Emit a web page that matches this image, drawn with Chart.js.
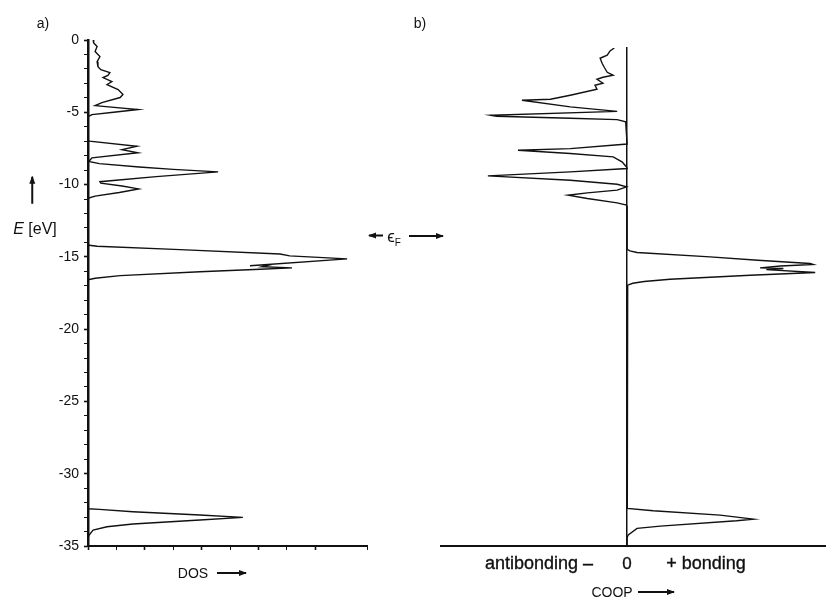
<!DOCTYPE html>
<html>
<head>
<meta charset="utf-8">
<script src="https://cdn.jsdelivr.net/npm/chart.js@4"></script>
<style>
  body { margin: 0; background: #fff; }
  #wrap { position: relative; width: 826px; height: 598px; overflow: hidden; font-family: "Liberation Sans", sans-serif; color: #111; }
  canvas { position: absolute; top: 0; }
  .lbl { position: absolute; white-space: nowrap; transform: translate(-50%, -50%); line-height: 1; }
  .big { font-size: 18px; -webkit-text-stroke: 0.35px #111; }
</style>
</head>
<body>
<div id="wrap">
  <canvas id="dos" width="400" height="598" style="left:0"></canvas>
  <canvas id="coop" width="396" height="598" style="left:430px"></canvas>
</div>
<script>
// a) density of states, energy in eV
const dosEnergy = [
  0, -0.2, -0.45, -0.8, -1.15, -1.5, -1.85, -2.05, -2.26, -2.45, -2.6, -2.87, -3.08, -3.43, -3.77, -3.98, -4.33, -4.54, -4.81, -5.0, -5.16, -5.3,
  -6.9, -7.0, -7.35, -7.58, -7.8, -8.15, -8.4, -8.55, -8.78, -8.95, -9.12, -9.45, -9.8, -9.9, -10.1, -10.3, -10.55, -10.8, -10.95,
  -14.1, -14.2, -14.27, -14.5, -14.8, -14.93, -15.14, -15.62, -15.51, -15.68, -15.76, -15.86, -16.03, -16.3, -16.48, -16.58,
  -32.3, -32.42, -32.47, -32.63, -32.86, -33.02, -33.2, -33.48, -33.67, -33.9, -34.24, -34.45, -35
];
const dosValue = [
  0.18, 0.2, 0.32, 0.25, 0.42, 0.32, 0.35, 0.45, 0.77, 0.7, 0.53, 0.84, 0.67, 1.06, 1.23, 1.13, 0.49, 0.25, 1.76, 0.9, 0.14, 0,
  0, 0.05, 1.72, 1.2, 1.76, 0.14, 0.03, 0.4, 1.8, 3.0, 4.58, 2.4, 0.42, 0.45, 1.2, 1.78, 1.1, 0.25, 0,
  0, 0.05, 0.32, 3.24, 6.76, 7.1, 9.12, 5.7, 6.48, 6.13, 7.18, 6.06, 3.94, 1.13, 0.25, 0,
  0, 0.02, 0.4, 1.58, 3.94, 5.45, 3.94, 1.58, 0.67, 0.18, 0.04, 0, 0
];

// b) crystal orbital overlap population
const coopEnergy = [
  -0.5, -0.7, -1.0, -1.21, -1.56, -1.85, -2.18, -2.39, -2.53, -2.67, -2.94, -3.08, -3.36, -3.77, -4.05, -4.12, -4.58, -4.89, -5.16, -5.23, -5.37, -5.46, -5.62,
  -7.15, -7.47, -7.58, -7.81, -8.04, -8.39, -8.74,
  -8.85, -9.08, -9.36, -9.66, -9.94, -10.12, -10.35, -10.54, -10.7, -10.93, -11.23, -11.39, -11.5,
  -14.45, -14.55, -14.67, -14.97, -15.2, -15.43, -15.5, -15.6, -15.73, -15.78, -15.85, -16.05, -16.24, -16.52, -16.68, -16.8, -16.93, -17.1,
  -32.3, -32.4, -32.56, -32.86, -33.14, -33.25, -33.62, -33.78, -34.24, -34.4, -35
];
const coopValue = [
  -0.45, -0.6, -0.7, -0.95, -0.88, -0.8, -0.7, -0.49, -0.85, -1.06, -0.85, -1.13, -1.06, -2.0, -2.7, -3.7, -2.0, -0.35, -4.8, -4.6, -2.0, -0.35, -0.05,
  0, -2.0, -3.84, -2.0, -0.49, -0.18, -0.02,
  0, -2.0, -4.9, -2.0, -0.35, -0.02, -0.35, -1.4, -2.08, -1.4, -0.35, -0.02, 0,
  0, 0.1, 0.35, 2.92, 4.6, 6.44, 6.55, 5.4, 4.68, 5.5, 4.9, 6.62, 4.33, 1.51, 0.6, 0.2, 0.02, 0,
  0, 0.02, 0.92, 3.27, 4.45, 3.85, 1.17, 0.35, 0.04, 0, 0
];

const energyTicks = [0, -5, -10, -15, -20, -25, -30, -35];

const ink = '#111';
const wrap = document.getElementById('wrap');

function curve(energies, values) {
  return energies.map((e, i) => ({ x: values[i], y: e }));
}

function lineSet(points) {
  return {
    data: points,
    showLine: true,
    borderColor: ink,
    borderWidth: 1.4,
    pointRadius: 0,
    tension: 0
  };
}

new Chart(document.getElementById('dos'), {
  type: 'scatter',
  data: { datasets: [lineSet(curve(dosEnergy, dosValue))] },
  options: {
    responsive: false,
    animation: false,
    layout: { padding: { top: 40, right: 33, left: 0, bottom: 0 } },
    plugins: { legend: { display: false }, tooltip: { enabled: false } },
    scales: {
      x: {
        type: 'linear', min: 0, max: 9.82,
        ticks: { stepSize: 1, display: false },
        grid: {
          drawOnChartArea: false, tickLength: 4, tickColor: ink,
          tickWidth: c => (c.tick && c.tick.value % 2 === 0) ? 1.6 : 1
        },
        border: { color: ink, width: 2 },
        afterFit: a => { a.height = 52; }
      },
      y: {
        type: 'linear', min: -35, max: 0,
        ticks: {
          stepSize: 1, autoSkip: false, padding: 5, color: ink,
          font: { family: 'Liberation Sans', size: 14 },
          callback: v => energyTicks.includes(v) ? String(v) : ''
        },
        grid: {
          drawOnChartArea: false, tickLength: 4, tickColor: ink,
          tickWidth: c => (c.tick && c.tick.value % 5 === 0) ? 1.6 : 1
        },
        border: { color: ink, width: 2.5 },
        afterFit: a => { a.width = 88; }
      }
    }
  }
});

new Chart(document.getElementById('coop'), {
  type: 'scatter',
  data: { datasets: [lineSet(curve(coopEnergy, coopValue))] },
  options: {
    responsive: false,
    animation: false,
    layout: { padding: { top: 48, right: 0, left: 11, bottom: 0 } },
    plugins: { legend: { display: false }, tooltip: { enabled: false } },
    scales: {
      x: {
        type: 'linear', min: -6.55, max: 7.0,
        ticks: { display: false },
        grid: { display: false },
        border: { color: ink, width: 2 },
        afterFit: a => { a.height = 52; }
      },
      y: {
        type: 'linear', min: -35, max: -0.5,
        position: { x: 0 },
        ticks: { display: false },
        grid: { display: false },
        border: { color: ink, width: 1.5 }
      }
    }
  }
});

// labels and arrows around the plots
function label(html, x, y, size, cls) {
  const d = document.createElement('div');
  d.className = 'lbl' + (cls ? ' ' + cls : '');
  d.innerHTML = html;
  d.style.left = x + 'px';
  d.style.top = y + 'px';
  if (size) d.style.fontSize = size + 'px';
  wrap.appendChild(d);
}

function arrow(x1, y1, x2, y2) {
  const len = Math.hypot(x2 - x1, y2 - y1);
  const ang = Math.atan2(y2 - y1, x2 - x1) * 180 / Math.PI;
  const shaft = document.createElement('div');
  shaft.style.cssText = 'position:absolute;height:1.5px;background:' + ink + ';transform-origin:0 50%;';
  shaft.style.left = x1 + 'px';
  shaft.style.top = (y1 - 0.75) + 'px';
  shaft.style.width = len + 'px';
  shaft.style.transform = 'rotate(' + ang + 'deg)';
  const head = document.createElement('div');
  head.style.cssText = 'position:absolute;right:-1px;top:-2.5px;width:0;height:0;' +
    'border-left:8px solid ' + ink + ';border-top:3.25px solid transparent;border-bottom:3.25px solid transparent;';
  shaft.appendChild(head);
  wrap.appendChild(shaft);
}

label('a)', 43, 23, 14);
label('b)', 420, 23, 14);

arrow(32, 204, 32, 177);
label('<i>E</i> [eV]', 35, 229, 16);

arrow(383, 236, 369, 236);
label('&#x03F5;<sub style="font-size:10px">F</sub>', 394, 238, 17);
arrow(409, 236, 443, 236);

label('DOS', 193, 573, 14);
arrow(217, 573, 246, 573);

label('antibonding &ndash;', 539, 563, 18, 'big');
label('0', 627, 563, 17, 'big');
label('+ bonding', 706, 563, 18, 'big');

label('COOP', 612, 592, 14);
arrow(638, 592, 674, 592);
</script>
</body>
</html>
